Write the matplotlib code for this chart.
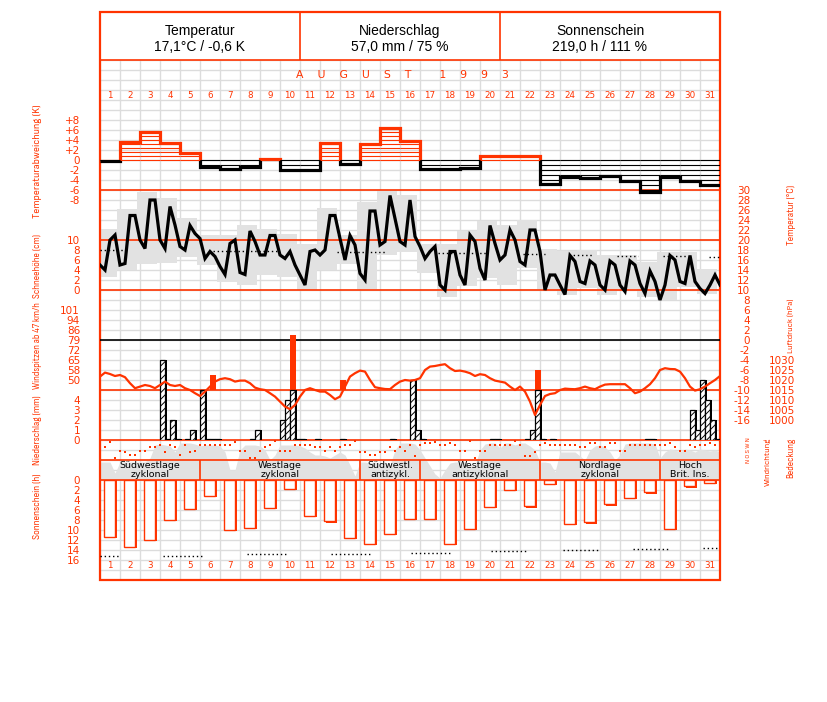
import numpy as np
import matplotlib
matplotlib.use("Agg")
import matplotlib.pyplot as plt
import matplotlib.font_manager as fm
from matplotlib.patches import Rectangle

# ---------------------------------------------------------------- data
days = list(range(1, 32))
month_letters = ["A", "U", "G", "U", "S", "T", "", "1", "9", "9", "3"]
header_titles = ["Temperatur", "Niederschlag", "Sonnenschein"]
header_values = ["17,1°C / -0,6 K", "57,0 mm / 75 %", "219,0 h / 111 %"]

# daily temperature anomaly (K)
anomaly = [-0.2, 3.6, 5.6, 3.4, 1.4, -1.4, -1.8, -1.4, 0.2, -2.0, -2.0, 3.4, -0.8,
           3.2, 6.4, 3.8, -1.8, -1.8, -1.6, 0.8, 0.8, 0.8, -4.8, -3.4, -3.6, -3.2,
           -4.2, -6.4, -3.4, -4.2, -5.0]

# 6-hourly air temperature (°C), 125 values (1 Aug 00h .. 1 Sep 00h)
temp6 = [15.0, 14.0, 20.0, 21.0, 15.0, 15.3, 24.9, 24.9, 20.0, 18.3, 28.0, 28.0,
         20.0, 18.3, 26.7, 23.0, 18.7, 18.0, 22.9, 21.3, 20.3, 16.3, 17.7, 16.7,
         14.7, 13.1, 19.3, 20.0, 13.5, 13.1, 21.8, 19.7, 17.0, 17.0, 20.9, 20.9,
         17.0, 16.3, 17.7, 15.0, 13.0, 11.0, 17.7,
         18.0, 17.0, 18.0, 24.9, 24.9, 20.3, 16.0, 20.9, 19.0, 13.3, 12.0, 25.8,
         25.8, 19.0, 19.7, 28.9, 24.3, 19.7, 19.0, 28.0, 20.7, 18.7, 16.3, 17.7,
         18.7, 11.0, 10.0, 17.7, 17.7, 13.0, 11.0, 21.0, 19.7, 14.3, 12.0, 22.9,
         19.3, 16.0, 17.0,
         22.0, 20.0, 15.7, 15.0, 22.0, 22.0, 17.7, 10.0, 13.0, 13.0, 11.0, 9.1,
         16.9, 15.7, 11.7, 11.3, 15.8, 15.0, 11.0, 10.0, 15.8, 15.0, 11.0, 9.7,
         15.8, 15.0, 11.3, 9.3, 13.8, 11.7, 8.0, 11.0, 16.9, 16.0, 11.7, 11.3,
         16.9, 11.7, 10.3, 9.3, 11.0, 13.0, 11.0]

# daily grey range boxes (°C)
box_high = [22.2, 26.3, 29.7, 28.5, 24.5, 21.0, 21.0, 23.0, 22.2, 21.3, 19.3, 26.5,
            21.1, 27.7, 30.5, 29.1, 19.3, 19.3, 21.9, 23.8, 23.0, 24.0, 18.2, 17.8,
            18.0, 17.0, 17.0, 15.7, 17.7, 17.7, 14.3]
box_low = [12.7, 14.0, 15.3, 15.5, 16.7, 15.0, 11.7, 11.1, 13.0, 12.7, 10.0, 14.0,
           15.3, 10.3, 17.0, 17.7, 13.5, 8.7, 10.9, 12.5, 11.0, 14.5, 10.3, 9.0,
           10.5, 9.0, 10.3, 8.7, 8.0, 10.7, 9.3]

# long-term mean temperature (dotted segments): start day, end day, °C
mean_start = [0.0, 5.65, 11.85, 16.9, 21.15, 23.45, 25.85, 28.15, 30.45]
mean_end = [1.35, 8.85, 14.35, 19.35, 22.25, 24.6, 26.9, 29.3, 31.0]
mean_temp = [18.0, 17.9, 17.7, 17.5, 17.3, 17.1, 16.9, 16.8, 16.6]

# 6-hourly air pressure (hPa), 125 values
pressure6 = [1021.7, 1023.7, 1023.0, 1022.0, 1022.5, 1021.4, 1018.4, 1015.9, 1016.7,
             1017.5, 1017.0, 1015.9, 1017.5, 1019.2, 1017.5, 1017.0, 1017.5, 1015.9,
             1015.0, 1013.4, 1012.0, 1014.2, 1016.7, 1019.2, 1020.4, 1020.9, 1020.4,
             1019.2, 1019.7, 1019.7, 1018.4, 1016.2, 1015.4, 1015.0, 1013.4, 1011.7,
             1009.2, 1006.7, 1005.4, 1007.5, 1011.7, 1015.0, 1015.9, 1015.0, 1014.2,
             1014.2, 1012.5, 1010.4, 1011.7, 1016.7, 1021.7, 1023.4, 1024.7, 1024.2,
             1020.0, 1016.4, 1015.9, 1015.5, 1015.4, 1017.5, 1019.2, 1020.0, 1019.7,
             1020.0, 1020.9, 1025.0, 1026.7, 1027.0, 1027.5, 1027.9, 1025.9, 1024.5,
             1024.7, 1024.2, 1023.4, 1022.0, 1022.9, 1022.5, 1020.9, 1019.7, 1019.2,
             1018.7, 1016.7, 1015.0, 1016.7, 1014.2, 1009.2, 1002.5, 1007.5, 1012.0,
             1013.0, 1013.4, 1015.0, 1015.7, 1015.5, 1015.4, 1015.9, 1016.7, 1015.9,
             1015.4, 1016.7, 1017.7, 1017.9, 1017.9, 1017.9, 1017.9, 1015.9, 1013.4,
             1014.2, 1015.9, 1017.9, 1020.9, 1025.0, 1025.9, 1025.5, 1025.4, 1024.2,
             1020.9, 1016.7, 1014.7, 1015.4, 1016.7, 1018.4, 1020.0, 1022.0]

# 6-hourly precipitation (mm), 4 values per day
precip6 = [0, 0, 0, 0,   0, 0, 0, 0,   0, 0, 0, 0,   8, 0.1, 2, 0.1,
           0, 0.1, 1, 0,   5, 0.1, 0.1, 0.1,   0, 0, 0, 0,   0, 0, 0.1, 1,
           0, 0, 0, 0,   2, 4, 5, 0.1,   0.1, 0, 0, 0.1,   0, 0, 0, 0,
           0.1, 0, 0, 0,   0, 0, 0, 0,   0, 0, 0.1, 0,   0, 0, 6, 1,
           0.1, 0, 0, 0,   0, 0, 0, 0,   0, 0, 0, 0,   0, 0, 0.1, 0.1,
           0, 0, 0, 0,   0, 0.1, 1, 5,   0.1, 0, 0.1, 0,   0, 0, 0, 0,
           0, 0, 0, 0,   0, 0, 0, 0,   0, 0, 0, 0,   0, 0.1, 0.1, 0,
           0, 0, 0, 0,   0, 0, 3, 1,   6, 4, 2, 0.1]

# peak gusts above 47 km/h: time (days since 1 Aug 00h) and speed (km/h)
gust_time = [5.65, 9.65, 12.15, 21.9]
gust_speed = [54.0, 82.8, 50.4, 57.6]

# 6-hourly wind direction (degrees), 125 values
wind_dir6 = [265, 229, 319, 41, 167, 139, 85, 85, 162, 162, 229, 229, 265, 139, 265,
             229, 85, 265, 139, 162, 265, 265, 265, 265, 265, 265, 265, 319, 162, 162,
             41, 41, 162, 229, 265, 342, 162, 162, 162, 265, 265,
             265, 265, 229, 229, 162, 229, 162, 229, 265, 265, 342, 139, 139, 85, 85,
             139, 139, 229, 162, 229, 162, 265, 81, 265, 306, 306, 324, 265, 265, 306,
             265, 162, 162, 342, 41, 162, 162, 265, 265, 265, 265, 265, 342, 265, 81,
             81, 139, 265, 306, 265, 265,
             265, 265, 265, 265, 229, 229, 306, 306, 229, 229, 306, 306, 162, 162, 265,
             265, 265, 265, 265, 265, 265, 265, 306, 229, 162, 162, 265, 229, 265, 265,
             306, 265, 306]

# 6-hourly cloud cover (octas), 125 values
cloud6 = [3.6, 3.6, 3.6, 1.4, 3.6, 3.6, 3.6, 3.6, 3.6, 3.6,
          4.4, 7.0, 7.2, 7.0, 6.8, 5.6, 7.4, 7.4, 7.4, 7.2,
          6.8, 7.0, 7.0, 7.0, 6.8, 5.6, 2.0, 2.0, 6.0, 7.0,
          7.0, 7.0, 6.8, 6.0, 4.0, 5.0, 7.0, 7.0, 7.0, 7.0,
          6.8, 6.4, 5.6, 5.0, 5.0, 4.8, 4.4, 5.0, 5.6, 5.0,
          3.0, 0.8, 3.6, 3.6, 3.4, 3.6, 3.4, 3.6, 3.0, 6.0,
          7.4, 7.4, 7.4, 7.2, 6.0, 4.4, 2.8, 1.2, 0.4, 2.0,
          3.4, 3.6, 3.6, 3.6, 2.8, 3.0, 6.0, 7.2, 7.4, 7.4,
          6.4, 7.4, 7.4, 7.0, 7.4, 7.4, 6.8, 6.0, 3.6, 3.6,
          3.4, 1.6, 5.6, 5.6, 5.6, 5.6, 4.8, 4.0, 6.0, 6.8,
          7.0, 6.6, 5.6, 4.0, 5.0, 7.2, 7.4, 7.4, 7.4, 7.4,
          7.4, 7.2, 4.4, 5.6, 6.2, 6.0, 5.6, 6.2, 6.0, 5.6,
          6.2, 6.0, 5.8, 6.0, 5.6]

# weather types
wl_names = ["Südwestlage\nzyklonal", "Westlage\nzyklonal", "Südwestl.\nantizykl.",
            "Westlage\nantizyklonal", "Nordlage\nzyklonal", "Hoch\nBrit. Ins."]
wl_bounds = [0, 5, 13, 16, 22, 28, 31]

# daily sunshine duration (h)
sunshine = [11.3, 13.3, 11.9, 7.9, 5.7, 3.1, 9.9, 9.5, 5.5, 1.7, 7.1, 8.2, 11.5, 12.7,
            10.7, 7.7, 7.7, 12.7, 9.7, 5.3, 1.9, 5.2, 0.7, 8.7, 8.4, 4.8, 3.5, 2.4,
            9.7, 1.2, 0.5]
# astronomically possible sunshine (dotted segments)
poss_start = [0.0, 3.15, 7.35, 11.55, 15.55, 19.55, 23.15, 26.65, 30.15]
poss_end = [1.0, 5.2, 9.4, 13.5, 17.5, 21.4, 24.9, 28.4, 31.0]
poss_hours = [15.2, 15.1, 14.8, 14.7, 14.5, 14.2, 14.0, 13.8, 13.6]

# ---------------------------------------------------------------- style
RED = "#ff3300"
GRID = "#dcdcdc"
GRAY = "#e2e2e2"
W, H = 827, 702


def find_narrow():
    best = None
    for f in fm.fontManager.ttflist:
        key = (f.name + " " + f.fname).lower()
        if ("narrow" in key or "condensed" in key or
                str(f.stretch) in ("condensed", "semi-condensed", "extra-condensed")):
            if f.style != "normal" or "bold" in key or "italic" in key or "light" in key:
                continue
            if str(f.weight) not in ("400", "normal", "regular", "book"):
                continue
            if best is None or "sans" in key:
                best = f
    if best is not None:
        return fm.FontProperties(fname=best.fname)
    return fm.FontProperties(family="Liberation Sans")


NARROW_FP = find_narrow()

fig = plt.figure(figsize=(W / 100, H / 100), dpi=100)
fig.patch.set_facecolor("white")


def make_ax(x0, y0, x1, y1, ylim, z):
    ax = fig.add_axes([x0 / W, 1 - y1 / H, (x1 - x0) / W, (y1 - y0) / H], zorder=z)
    ax.set_xlim(0, 31)
    ax.set_ylim(*ylim)
    ax.patch.set_alpha(0)
    for s in ax.spines.values():
        s.set_visible(False)
    ax.set_xticks([])
    ax.set_yticks([])
    ax.tick_params(length=0, labelsize=7.5, labelcolor=RED)
    return ax


def left_ticks(ax, vals, labels):
    ax.set_yticks(vals)
    ax.set_yticklabels(labels, ha="right")
    ax.tick_params(axis="y", left=False, labelleft=True, pad=14.4,
                   labelsize=7.5, labelcolor=RED)


def right_ticks(ax, vals, labels, pad_px):
    ax.yaxis.tick_right()
    ax.set_yticks(vals)
    ax.set_yticklabels(labels, ha="right")
    ax.tick_params(axis="y", right=False, labelright=True, left=False,
                   labelleft=False, pad=pad_px * 0.72, labelsize=7.5, labelcolor=RED)


t6 = np.arange(len(temp6)) / 4.0
day_idx = np.arange(31)

# ---------------------------------------------------------------- grid
ax_bg = make_ax(100, 60, 720, 580, (0, 52), 0)
ax_bg.set_xticks(range(32))
ax_bg.set_yticks(range(53))
ax_bg.tick_params(labelbottom=False, labelleft=False, length=0)
ax_bg.grid(True, color=GRID, lw=1)

# ---------------------------------------------------------------- grey layers
ax_tbox = make_ax(100, 190, 720, 420, (-16, 30), 1)
ax_tbox.bar(day_idx + 0.5 - 0.15, np.array(box_high) - np.array(box_low),
            bottom=box_low, width=1.0, color=GRAY, lw=0)

ax_cloud = make_ax(100, 440, 720, 480, (0, 8), 1)
ax_cloud.fill_between(t6, 0, cloud6, color=GRAY, lw=0)

# ---------------------------------------------------------------- layout lines
ax_lay = make_ax(100, 12, 720, 580, (580, 12), 2)
for yy in [60, 190, 240, 290, 390, 440, 460, 480]:
    ax_lay.axhline(yy, color=RED, lw=1.2)
ax_lay.add_patch(Rectangle((0, 12), 31, 568, fill=False, edgecolor=RED, lw=1.6,
                           clip_on=False))
ax_lay.vlines([10, 20], 12, 60, color=RED, lw=1.2)
for d in days:
    ax_lay.text(d - 0.5, 96, str(d), color=RED, fontsize=6.3, ha="center", va="center")
    ax_lay.text(d - 0.5, 566, str(d), color=RED, fontsize=6.3, ha="center", va="center")
ax_lay.text(15.1, 75, "    ".join(month_letters), color=RED, fontsize=7.8,
            ha="center", va="center")

# ---------------------------------------------------------------- header
for i, (tt, vv) in enumerate(zip(header_titles, header_values)):
    cx = (200 + 200 * i) / W
    fig.text(cx, 1 - 31 / H, tt, ha="center", va="center", fontsize=10,
             family="Liberation Sans")
    fig.text(cx, 1 - 47 / H, vv, ha="center", va="center", fontsize=10,
             family="Liberation Sans")

# ---------------------------------------------------------------- anomaly
ax_an = make_ax(100, 110, 720, 200, (-8, 10), 3)
for i, v in enumerate(anomaly):
    col = RED if v > 0 else "k"
    step = 0.8 if v > 0 else 1.0
    levels = np.arange(0, abs(v), step) * np.sign(v)
    ax_an.hlines(levels, i, i + 1, color=col, lw=0.8)
edges = np.arange(32)
st_r = ax_an.stairs(anomaly, edges, baseline=None, color=RED, lw=2.3)
st_r.set_clip_path(Rectangle((0, 0), 31, 10, transform=ax_an.transData))
st_k = ax_an.stairs(anomaly, edges, baseline=None, color="k", lw=2.3)
st_k.set_clip_path(Rectangle((0, -8), 31, 8, transform=ax_an.transData))
an_ticks = np.arange(-8, 9, 2)
left_ticks(ax_an, an_ticks, [("+%d" % v) if v > 0 else str(v) for v in an_ticks])

# ---------------------------------------------------------------- temperature
ax_t = make_ax(100, 190, 720, 420, (-16, 30), 3)
ax_t.axhline(0, color="k", lw=1.2)
ax_t.hlines(mean_temp, mean_start, mean_end, color="k", lw=1.0, linestyles=(0, (1, 2)))
ax_t.plot(t6, temp6, color="k", lw=2.3, solid_joinstyle="miter")
t_ticks = np.arange(30, -17, -2)
right_ticks(ax_t, t_ticks, [str(v) for v in t_ticks], 30)

ax_snow = make_ax(100, 240, 720, 290, (0, 10), 3)
left_ticks(ax_snow, np.arange(0, 11, 2), [str(v) for v in range(0, 11, 2)])

# ---------------------------------------------------------------- wind gusts
ax_w = make_ax(100, 310, 720, 390, (43.2, 100.8), 3)
ax_w.bar(gust_time, np.array(gust_speed) - 43.2, bottom=43.2, width=0.3,
         color=RED, lw=0)
w_ticks = np.arange(14, 30, 2) * 3.6
left_ticks(ax_w, w_ticks, ["%d" % round(v) for v in w_ticks])

# ---------------------------------------------------------------- precipitation
plt.rcParams["hatch.linewidth"] = 0.7
ax_p = make_ax(100, 340, 720, 440, (0, 10), 3)
pr = np.array(precip6)
slots = np.arange(len(pr)) / 4.0
mask = pr > 0
ax_p.bar(slots[mask] + 0.1, pr[mask], width=0.25, align="edge", color="k", lw=0)
ax_p.bar(slots[mask], pr[mask], width=0.25, align="edge", facecolor="white",
         edgecolor="k", hatch="/////", lw=0.9)
left_ticks(ax_p, np.arange(0, 5), [str(v) for v in range(5)])

# ---------------------------------------------------------------- pressure
ax_pr = make_ax(100, 340, 720, 440, (990, 1040), 3)
ax_pr.plot(t6, pressure6, color=RED, lw=1.6)
p_ticks = np.arange(1030, 999, -5)
right_ticks(ax_pr, p_ticks, [str(v) for v in p_ticks], 75)

# ---------------------------------------------------------------- wind direction
ax_wd = make_ax(100, 440, 720, 460, (0, 360), 3)
ax_wd.plot(t6, wind_dir6, ls="none", marker="s", ms=1.7, mew=0, color=RED)

# ---------------------------------------------------------------- weather types
ax_wl = make_ax(100, 460, 720, 480, (0, 1), 4)
ax_wl.vlines(wl_bounds[1:-1], 0, 1, color=RED, lw=1.2)
for name, a, b in zip(wl_names, wl_bounds[:-1], wl_bounds[1:]):
    ax_wl.text((a + b) / 2, 0.5, name, ha="center", va="center", fontsize=6.8,
               linespacing=0.9, color="k")

# ---------------------------------------------------------------- sunshine
ax_s = make_ax(100, 480, 720, 560, (16, 0), 3)
sun = np.array(sunshine)
ax_s.bar(day_idx + 0.29, sun + 0.35, width=0.55, align="edge", color=RED, lw=0)
ax_s.bar(day_idx + 0.21, sun, width=0.55, align="edge", facecolor="white",
         edgecolor=RED, lw=1.0)
ax_s.hlines(poss_hours, poss_start, poss_end, color="k", lw=1.0,
            linestyles=(0, (1, 2)))
left_ticks(ax_s, np.arange(0, 17, 2), [str(v) for v in range(0, 17, 2)])

# ---------------------------------------------------------------- side titles
side_texts = []


def side(x, y, s, length):
    t = fig.text(x / W, 1 - y / H, s, rotation=90, ha="center", va="center",
                 color=RED, fontproperties=NARROW_FP.copy())
    t.set_fontsize(8)
    side_texts.append((t, length))


side(37, 161, "Temperaturabweichung (K)", 112)
side(37, 266, "Schneehöhe (cm)", 64)
side(37, 346, "Windspitzen ab 47 km/h", 86)
side(37, 430, "Niederschlag (mm)", 70)
side(37, 506, "Sonnenschein (h)", 66)
side(791, 215, "Temperatur (°C)", 60)
side(791, 326, "Luftdruck (hPa)", 54)
side(768, 462, "Windrichtung", 48)
side(791, 458, "Bedeckung", 40)
side(749, 450, "N O S W N", 26)

renderer = fig.canvas.get_renderer()
for t, length in side_texts:
    bb = t.get_window_extent(renderer)
    t.set_fontsize(t.get_fontsize() * length / max(bb.height, 1))

fig.savefig("out.png", dpi=100, facecolor="white")
